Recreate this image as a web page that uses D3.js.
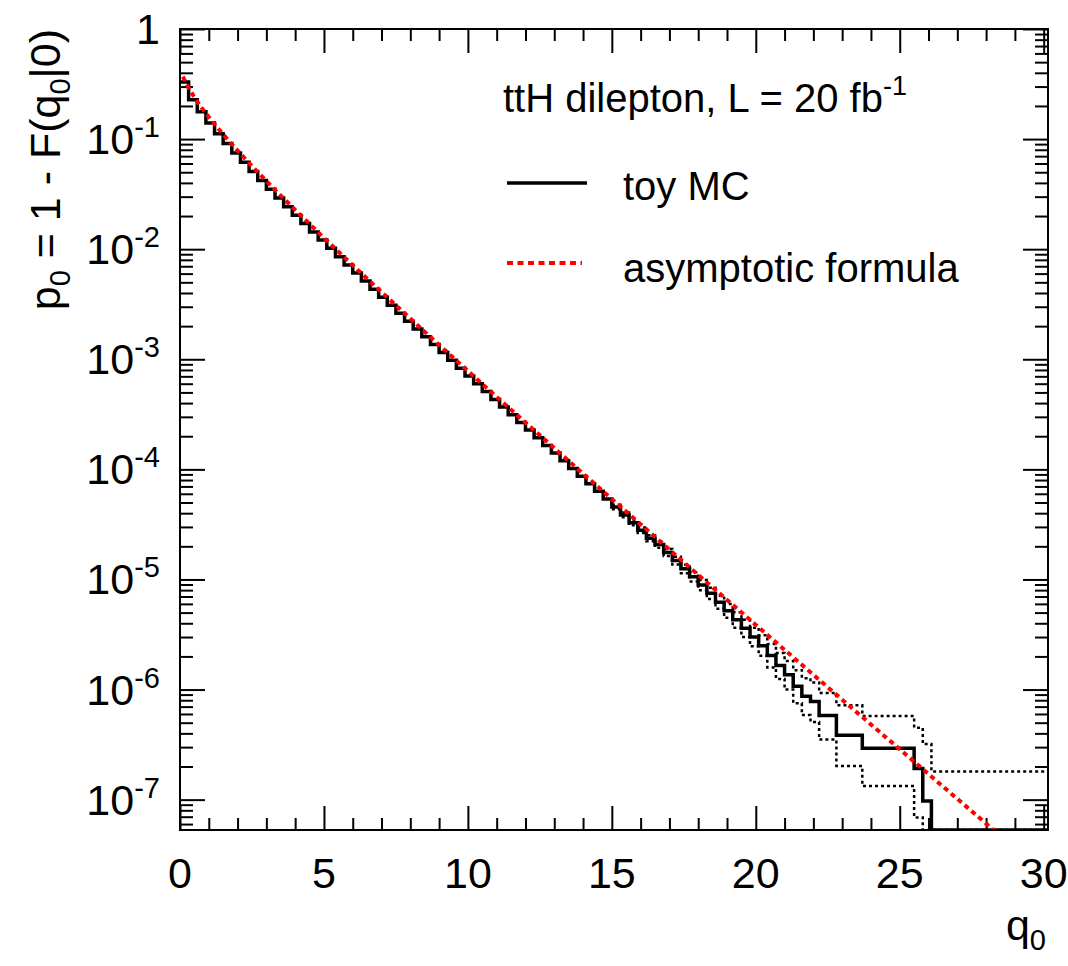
<!DOCTYPE html>
<html>
<head>
<meta charset="utf-8">
<script src="https://cdn.jsdelivr.net/npm/d3@7/dist/d3.min.js"></script>
<style>
  html, body { margin: 0; padding: 0; background: #fff; }
  svg { display: block; font-family: "Liberation Sans", Arial, Helvetica, sans-serif; }
</style>
</head>
<body>
<svg id="chart" width="1068" height="966"></svg>
<script>

// ---------------- data ----------------

// toy MC histogram, 100 bins of width 0.3 in q0
var binWidth = 0.3;
var toyMC = [
  0.33, 0.228, 0.177, 0.140, 0.112, 0.0914, 0.0748, 0.0615, 0.0507, 0.0421,
  0.0350, 0.0292, 0.0243, 0.0203, 0.0171, 0.0143, 0.0121, 0.0102, 0.00853, 0.00719,
  0.00607, 0.00513, 0.00433, 0.00366, 0.00310, 0.00262, 0.00222, 0.00188, 0.00160, 0.00136,
  0.00115, 9.79e-4, 8.29e-4, 7.04e-4, 5.99e-4, 5.09e-4, 4.32e-4, 3.69e-4, 3.14e-4, 2.67e-4,
  2.28e-4, 1.94e-4, 1.65e-4, 1.41e-4, 1.20e-4, 1.02e-4, 8.68e-5, 7.41e-5, 6.32e-5, 5.39e-5,
  4.55e-5, 3.86e-5, 3.28e-5, 2.80e-5, 2.37e-5, 2.08e-5, 1.76e-5, 1.49e-5, 1.25e-5, 1.06e-5,
  8.9e-6, 7.5e-6, 6.2e-6, 5.2e-6, 4.3e-6, 3.6e-6, 3.0e-6, 2.5e-6, 2.04e-6, 1.65e-6,
  1.36e-6, 1.07e-6, 8.7e-7, 7.8e-7, 5.8e-7, 5.8e-7, 3.85e-7, 3.85e-7, 3.85e-7, 2.93e-7,
  2.93e-7, 2.93e-7, 2.93e-7, 2.93e-7, 2.93e-7, 1.92e-7, 0.97e-7, 0, 0, 0,
  0, 0, 0, 0, 0, 0, 0, 0, 0, 0
];

// statistical band (dotted), given from bin 51 on (hidden under the line before)
var bandFirstBin = 50;
var bandUp = [
  4.76e-5, 4.05e-5, 3.45e-5, 2.96e-5, 2.52e-5, 2.22e-5, 1.89e-5, 1.61e-5, 1.36e-5, 1.16e-5,
  9.9e-6, 8.4e-6, 7.1e-6, 6.0e-6, 5.05e-6, 4.3e-6, 3.65e-6, 3.12e-6, 2.59e-6, 2.15e-6,
  1.82e-6, 1.50e-6, 1.27e-6, 1.16e-6, 9.3e-7, 9.3e-7, 7.2e-7, 7.2e-7, 7.2e-7, 5.74e-7,
  5.74e-7, 5.74e-7, 5.74e-7, 5.74e-7, 5.74e-7, 4.5e-7, 3.2e-7, 1.8e-7, 1.8e-7, 1.8e-7,
  1.8e-7, 1.8e-7, 1.8e-7, 1.8e-7, 1.8e-7, 1.8e-7, 1.8e-7, 1.8e-7, 1.8e-7, 1.8e-7
];
var bandLo = [
  4.35e-5, 3.67e-5, 3.11e-5, 2.64e-5, 2.22e-5, 1.94e-5, 1.63e-5, 1.37e-5, 1.14e-5, 9.6e-6,
  8.0e-6, 6.65e-6, 5.43e-6, 4.5e-6, 3.65e-6, 3.0e-6, 2.47e-6, 2.03e-6, 1.59e-6, 1.25e-6,
  1.0e-6, 7.5e-7, 5.86e-7, 5.07e-7, 3.51e-7, 3.51e-7, 2.02e-7, 2.02e-7, 2.02e-7, 1.33e-7,
  1.33e-7, 1.33e-7, 1.33e-7, 1.33e-7, 1.33e-7, 6.9e-8, 1.7e-8, 0, 0, 0,
  0, 0, 0, 0, 0, 0, 0, 0, 0, 0
];

// asymptotic formula curve
var asymQ = [0.1, 0.25, 0.49, 1.0, 1.44, 2.25, 3.24, 4.0, 4.84, 6.25, 7.84, 9.0,
             10.24, 12.25, 14.44, 16.0, 17.64, 19.36, 21.16, 23.04, 25.0, 27.04, 28.09, 29.16];
var asymP = [0.37, 0.3085, 0.242, 0.1587, 0.1151, 0.0668, 0.0359, 0.02275, 0.0139, 0.00621, 0.00256, 0.00135,
             6.87e-4, 2.33e-4, 7.23e-5, 3.17e-5, 1.33e-5, 5.41e-6, 2.11e-6, 7.93e-7, 2.87e-7, 9.96e-8, 5.79e-8, 3.33e-8];

// ticks
var xMajor = [0, 5, 10, 15, 20, 25, 30];
var yMajorExp = [0, -1, -2, -3, -4, -5, -6, -7];

var headerText = "ttH dilepton, L = 20 fb";
var legendNames = ["toy MC", "asymptotic formula"];

// ---------------- layout ----------------

var frame = { left: 180, top: 29, right: 1048, bottom: 830 };
var xMax = 30.15, yMin = 5.3e-8, yMax = 1;
var fontSize = 43, supSize = 29;

var svg = d3.select('#chart');

var x = d3.scaleLinear().domain([0, xMax]).range([frame.left, frame.right]);
var y = d3.scaleLog().domain([yMin, yMax]).range([frame.bottom, frame.top]);

// values at or below the axis minimum sit on the bottom of the frame
var yc = function(v) { return y(Math.max(v, yMin)); };

svg.append('defs').append('clipPath').attr('id', 'plotArea')
   .append('rect')
   .attr('x', frame.left).attr('y', frame.top)
   .attr('width', frame.right - frame.left)
   .attr('height', frame.bottom - frame.top);

// ---------------- axes ----------------

var xMinor = d3.range(1, 31).filter(function(d) { return d % 5 != 0; });
var yMajor = yMajorExp.map(function(e) { return Math.pow(10, e); });
var yMinor = [];
for (var e = -8; e < 0; e++) {
  for (var m = 2; m <= 9; m++) {
    var v = m * Math.pow(10, e);
    if (v >= yMin && v <= yMax) yMinor.push(v);
  }
}

function tickAxis(axis, g) {
  g.call(axis);
  g.select('.domain').remove();
  g.selectAll('line').attr('stroke', '#000').attr('stroke-width', 2);
  g.selectAll('text').remove();
}

// bottom / top
tickAxis(d3.axisBottom(x).tickValues(xMajor).tickSize(-24).tickSizeOuter(0),
         svg.append('g').attr('transform', 'translate(0,' + frame.bottom + ')'));
tickAxis(d3.axisBottom(x).tickValues(xMinor).tickSize(-12).tickSizeOuter(0),
         svg.append('g').attr('transform', 'translate(0,' + frame.bottom + ')'));
tickAxis(d3.axisTop(x).tickValues(xMajor).tickSize(-24).tickSizeOuter(0),
         svg.append('g').attr('transform', 'translate(0,' + frame.top + ')'));
tickAxis(d3.axisTop(x).tickValues(xMinor).tickSize(-12).tickSizeOuter(0),
         svg.append('g').attr('transform', 'translate(0,' + frame.top + ')'));
// left / right
tickAxis(d3.axisLeft(y).tickValues(yMajor).tickSize(-25).tickSizeOuter(0),
         svg.append('g').attr('transform', 'translate(' + frame.left + ',0)'));
tickAxis(d3.axisLeft(y).tickValues(yMinor).tickSize(-13).tickSizeOuter(0),
         svg.append('g').attr('transform', 'translate(' + frame.left + ',0)'));
tickAxis(d3.axisRight(y).tickValues(yMajor).tickSize(-25).tickSizeOuter(0),
         svg.append('g').attr('transform', 'translate(' + frame.right + ',0)'));
tickAxis(d3.axisRight(y).tickValues(yMinor).tickSize(-13).tickSizeOuter(0),
         svg.append('g').attr('transform', 'translate(' + frame.right + ',0)'));

// x tick labels
svg.append('g').selectAll('text')
   .data(xMajor).enter().append('text')
   .attr('x', function(d) { return x(d); })
   .attr('y', frame.bottom + 58)
   .attr('text-anchor', 'middle')
   .attr('font-size', fontSize)
   .text(function(d) { return d; });

// y tick labels, 1 and 10^-n
var yLab = svg.append('g').selectAll('text')
   .data(yMajorExp).enter().append('text')
   .attr('x', 160)
   .attr('y', function(d) { return y(Math.pow(10, d)) + 15; })
   .attr('text-anchor', 'end')
   .attr('font-size', fontSize);
yLab.filter(function(d) { return d == 0; }).text('1');
yLab.filter(function(d) { return d != 0; }).each(function(d) {
  var t = d3.select(this);
  t.append('tspan').text('10');
  t.append('tspan').attr('font-size', supSize).attr('dy', -17).text(d);
});

// axis titles
var xt = svg.append('text')
   .attr('x', frame.right - 2).attr('y', 940)
   .attr('text-anchor', 'end')
   .attr('font-size', fontSize);
xt.append('tspan').text('q');
xt.append('tspan').attr('font-size', supSize).attr('dy', 10).text('0');

var yt = svg.append('text')
   .attr('transform', 'translate(60,' + frame.top + ') rotate(-90)')
   .attr('text-anchor', 'end')
   .attr('font-size', fontSize);
yt.append('tspan').text('p');
yt.append('tspan').attr('font-size', supSize).attr('dy', 10).text('0');
yt.append('tspan').attr('dy', -10).text(' = 1 - F(q');
yt.append('tspan').attr('font-size', supSize).attr('dy', 10).text('0');
yt.append('tspan').attr('dy', -10).text('|0)');

// ---------------- histograms ----------------

function stepPoints(values, firstBin) {
  var pts = values.map(function(v, i) { return [(firstBin + i) * binWidth, v]; });
  pts.push([xMax, values[values.length - 1]]);
  return pts;
}

var stepLine = d3.line()
   .x(function(d) { return x(d[0]); })
   .y(function(d) { return yc(d[1]); })
   .curve(d3.curveStepAfter);

var plot = svg.append('g').attr('clip-path', 'url(#plotArea)');

[bandUp, bandLo].forEach(function(band) {
  plot.append('path')
      .attr('d', stepLine(stepPoints(band, bandFirstBin)))
      .attr('fill', 'none')
      .attr('stroke', '#000')
      .attr('stroke-width', 2.5)
      .attr('stroke-dasharray', '3,3');
});

plot.append('path')
    .attr('d', stepLine(stepPoints(toyMC, 0)))
    .attr('fill', 'none')
    .attr('stroke', '#000')
    .attr('stroke-width', 3.5);

// asymptotic formula
var asymLine = d3.line()
   .x(function(d) { return x(d[0]); })
   .y(function(d) { return y(d[1]); })
   .curve(d3.curveMonotoneX);

plot.append('path')
    .attr('d', asymLine(asymQ.map(function(q, i) { return [q, asymP[i]]; })))
    .attr('fill', 'none')
    .attr('stroke', '#ff0000')
    .attr('stroke-width', 4)
    .attr('stroke-dasharray', '5,4');

// frame
svg.append('rect')
   .attr('x', frame.left).attr('y', frame.top)
   .attr('width', frame.right - frame.left)
   .attr('height', frame.bottom - frame.top)
   .attr('fill', 'none')
   .attr('stroke', '#000')
   .attr('stroke-width', 2);

// ---------------- legend ----------------

var head = svg.append('text')
   .attr('x', 503).attr('y', 112)
   .attr('font-size', 40);
head.append('tspan').text(headerText);
head.append('tspan').attr('font-size', 27).attr('dy', -17).text('-1');

svg.append('line')
   .attr('x1', 507).attr('x2', 587).attr('y1', 183).attr('y2', 183)
   .attr('stroke', '#000').attr('stroke-width', 3.5);
svg.append('line')
   .attr('x1', 507).attr('x2', 582).attr('y1', 263).attr('y2', 263)
   .attr('stroke', '#ff0000').attr('stroke-width', 4)
   .attr('stroke-dasharray', '6,4.5');

svg.append('g').selectAll('text')
   .data(legendNames).enter().append('text')
   .attr('x', 623)
   .attr('y', function(d, i) { return 200 + i * 82; })
   .attr('font-size', 40)
   .text(function(d) { return d; });

</script>
</body>
</html>
